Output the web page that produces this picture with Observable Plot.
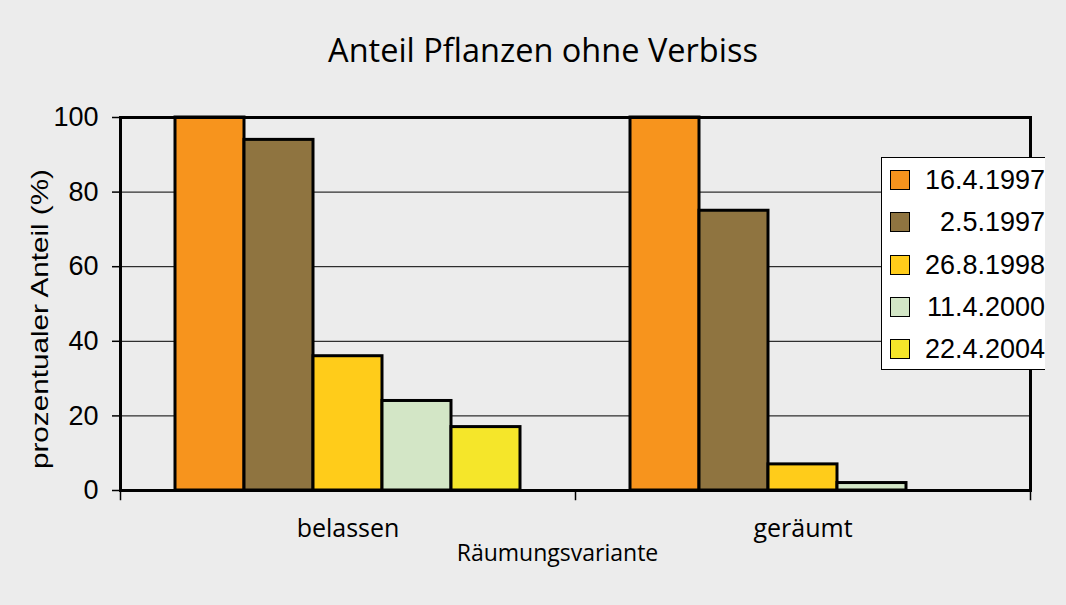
<!DOCTYPE html>
<html>
<head>
<meta charset="utf-8">
<script src="https://cdn.jsdelivr.net/npm/d3@7"></script>
<script src="https://cdn.jsdelivr.net/npm/@observablehq/plot@0.6"></script>
<style>
  html, body { margin: 0; padding: 0; background: #ececec; }
  #wrap { position: relative; width: 1066px; height: 605px; overflow: hidden; }
  #title { height: 100px; line-height: 100px; text-align: center; font-family: "Open Sans", sans-serif; font-size: 32.5px; color: #000; padding-left: 20px; box-sizing: border-box; }
  #legend { position: absolute; left: 881px; top: 157px; width: 164px; height: 213px; background: #fff; border: 1.5px solid #000; border-right: none; box-sizing: border-box; overflow: hidden; }
  .row { position: absolute; left: 0; width: 164px; height: 30px; }
  .sw { position: absolute; left: 8px; top: 5px; width: 20px; height: 20px; border: 1.5px solid #000; box-sizing: border-box; }
  .lbl { position: absolute; right: 1px; top: 0; height: 30px; line-height: 30px; font-family: "Liberation Sans", Arial, sans-serif; font-size: 27px; color: #000; white-space: pre; }
</style>
</head>
<body>
<div id="wrap">
  <div id="title">Anteil Pflanzen ohne Verbiss</div>
  <div id="chart"></div>
  <div id="legend"></div>
</div>
<script>
const groups = ["belassen", "geräumt"];
const dates = ["16.4.1997", "2.5.1997", "26.8.1998", "11.4.2000", "22.4.2004"];
const valuesBelassen = [100, 94, 36, 24, 17];
const valuesGeraeumt = [100, 75, 7, 2, 0];
const colors = ["#f7941d", "#8f7440", "#ffcc1a", "#d3e6c6", "#f5e62a"];
const yTicks = [0, 20, 40, 60, 80, 100];
const gridTicks = [20, 40, 60, 80];
const yLabel = "prozentualer Anteil (%)";
const xLabel = "Räumungsvariante";

const seriesByGroup = [valuesBelassen, valuesGeraeumt];
const data = groups.flatMap((g, gi) => dates.map((d, i) => ({group: g, date: d, value: seriesByGroup[gi][i]})));

const plotH = 373;
const chart = Plot.plot({
  width: 1066,
  height: 505,
  marginTop: 17,
  marginLeft: 120,
  marginRight: 36,
  marginBottom: 115,
  style: {background: "transparent", fontFamily: "'Liberation Sans', Arial, sans-serif", color: "#000"},
  fx: {domain: groups, padding: 0, label: null},
  x: {domain: dates, paddingInner: 0, paddingOuter: 0.757, axis: null},
  y: {domain: [0, 100], label: null},
  color: {domain: dates, range: colors},
  marks: [
    Plot.gridY(gridTicks, {stroke: "#000", strokeOpacity: 1, strokeWidth: 1}),
    Plot.barY(data, {fx: "group", x: "date", y: "value", fill: "date", stroke: "#000", strokeWidth: 3, strokeLinejoin: "miter"}),
    Plot.frame({anchor: "top", stroke: "#000", strokeWidth: 3, strokeLinecap: "square"}),
    Plot.frame({anchor: "bottom", stroke: "#000", strokeWidth: 3, strokeLinecap: "square"}),
    Plot.frame({anchor: "left", facetAnchor: "left", stroke: "#000", strokeWidth: 3, strokeLinecap: "square"}),
    Plot.frame({anchor: "right", facetAnchor: "right", stroke: "#000", strokeWidth: 3, strokeLinecap: "square"}),
    Plot.frame({anchor: "left", insetTop: plotH, insetBottom: -9, stroke: "#000", strokeWidth: 1.5}),
    Plot.frame({anchor: "right", facetAnchor: "right", insetTop: plotH, insetBottom: -9, stroke: "#000", strokeWidth: 1.5}),
    Plot.axisY({ticks: yTicks, tickSize: 8, tickPadding: 14, fontSize: 27, strokeWidth: 1.5, label: null}),
    Plot.text([yLabel], {frameAnchor: "left", facetAnchor: "left", rotate: -90, dx: -80, dy: 15, fontSize: 24, fontFamily: "'Liberation Sans', Arial, sans-serif", fill: "#000", textAnchor: "middle"}),
    Plot.axisFx({anchor: "bottom", tickSize: 0, tickPadding: 29, fontSize: 25, fontFamily: "'Open Sans', sans-serif", label: null}),
    Plot.text([xLabel], {frameAnchor: "bottom-right", facetAnchor: "left", dx: -18, dy: 70, fontSize: 23, fontFamily: "'Open Sans', sans-serif", fill: "#000", textAnchor: "middle"})
  ]
});
document.getElementById("chart").appendChild(chart);

// stretch the y-axis title like the reference
chart.querySelectorAll("text").forEach(t => {
  if (t.textContent === yLabel) { t.setAttribute("textLength", 300); t.setAttribute("lengthAdjust", "spacingAndGlyphs"); }
});

const legend = document.getElementById("legend");
dates.forEach((d, i) => {
  const row = document.createElement("div");
  row.className = "row";
  row.style.top = (7 + i * 42.3) + "px";
  const sw = document.createElement("div");
  sw.className = "sw";
  sw.style.background = colors[i];
  const lbl = document.createElement("div");
  lbl.className = "lbl";
  lbl.textContent = d;
  row.appendChild(sw);
  row.appendChild(lbl);
  legend.appendChild(row);
});
</script>
</body>
</html>
